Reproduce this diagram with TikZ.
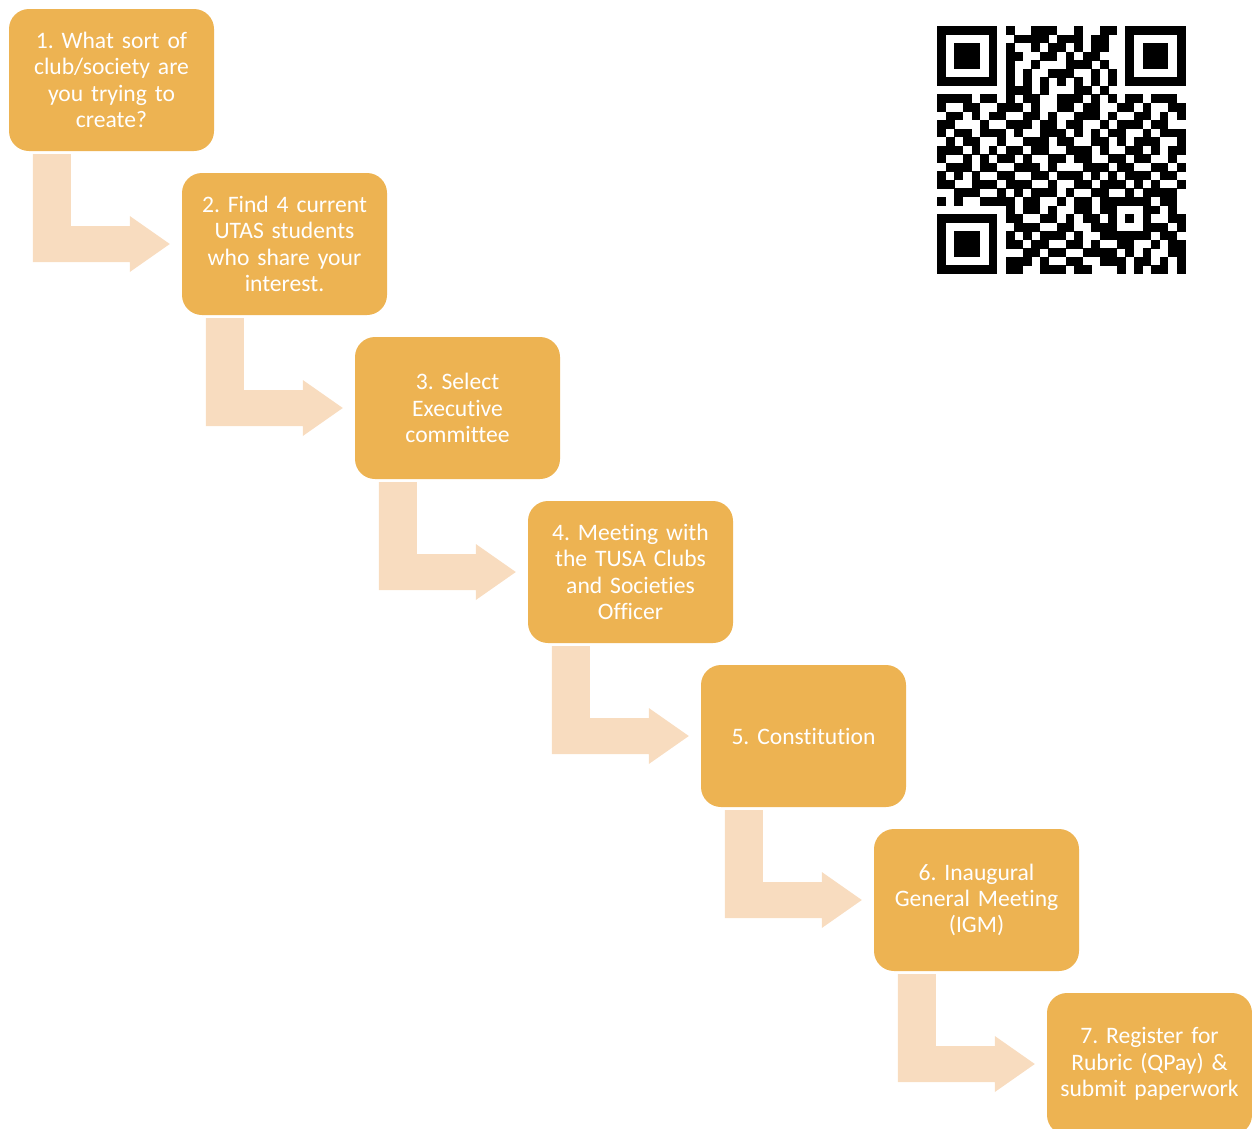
\documentclass[tikz,border=0pt]{standalone}
\usepackage{fontspec}
\setmainfont{Carlito}[Ligatures={NoCommon},WordSpace=0.85]
\usetikzlibrary{calc}
\frenchspacing
\definecolor{boxc}{RGB}{237,179,82}
\definecolor{arrc}{RGB}{248,220,191}
\newcount\qrc
\newcount\qrr
\def\qm{8.55}
\def\qrx{937.3}
\def\qry{26}
\def\qrline#1{\global\qrc=0 \qrscan#1\relax\global\advance\qrr by 1 }
\def\qrscan#1{\ifx#1\relax\else\if#11\fill[black] ({\qrx+\the\qrc*\qm},{\qry+\the\qrr*\qm}) rectangle ++(8.85,8.85);\fi\global\advance\qrc by 1 \expandafter\qrscan\fi}
\tikzset{
  stepbox/.style={fill=boxc, rounded corners=20pt, minimum width=205pt, minimum height=142pt,
    text width=195pt, align=center, text=white, inner sep=0pt,
    font=\fontsize{23.6}{26.4}\selectfont},
  bentarrow/.style={fill=arrc}
}
\begin{document}
\begin{tikzpicture}[x=1pt,y=-1pt]
\useasboundingbox (0,0) rectangle (1252,1128);
\node[stepbox] (b1) at (111.5,80) {1. What sort of\\club/society are\\you trying to\\create?};
\node[stepbox] (b2) at (284.5,244) {2. Find 4 current\\UTAS students\\who share your\\interest.};
\node[stepbox] (b3) at (457.5,408) {3. Select\\Executive\\committee};
\node[stepbox] (b4) at (630.5,572) {4. Meeting with\\the TUSA Clubs\\and Societies\\Officer};
\node[stepbox] (b5) at (803.5,736) {5. Constitution};
\node[stepbox] (b6) at (976.5,900) {6. Inaugural\\General Meeting\\(IGM)};
\node[stepbox] (b7) at (1149.5,1064) {7. Register for\\Rubric (QPay) \&\\submit paperwork};
\foreach \i/\j in {1/2,2/3,3/4,4/5,5/6,6/7}{
  \coordinate (a\i) at ($(b\i.south west)+(24,3)$);
  \coordinate (t\i) at ($(b\j.west)+(-12,0)$);
  \fill[bentarrow] (a\i) -- ++(38,0) |- ($(t\i)+(-40,-18)$) -- ++(0,-10) -- (t\i)
    -- ($(t\i)+(-40,28)$) -- ++(0,-10) -| (a\i) -- cycle;
}
\global\qrr=0
\qrline{11111110100111001001101111111}
\qrline{10000010011110111011001000001}
\qrline{10111010100101101011001011101}
\qrline{10111010110011010110001011101}
\qrline{10111010100100011101001011101}
\qrline{10000010101001110010101000001}
\qrline{11111110101010101010101111111}
\qrline{00000000111010001101000000000}
\qrline{11110110101100111010101101110}
\qrline{10011001110100110110011010011}
\qrline{01101011001101001110100110101}
\qrline{11000100111011011001011101100}
\qrline{10110111010011101010110010111}
\qrline{01011001001110110011010111001}
\qrline{11101010110110011101001101011}
\qrline{10010101101001101100110110010}
\qrline{01110110011101000111011001101}
\qrline{10101001100110111010101110110}
\qrline{11001110111001001101110101001}
\qrline{00111001010111010011001011110}
\qrline{10100111101100101101111110110}
\qrline{00000000101101001101100011010}
\qrline{11111110110011010110101010011}
\qrline{10000010011100110011100011101}
\qrline{10111010101011101001111110110}
\qrline{10111010110110011010011001011}
\qrline{10111010001101100111101010011}
\qrline{10000010111010011001110110101}
\qrline{11111110110011101100010101101}
\end{tikzpicture}
\end{document}
